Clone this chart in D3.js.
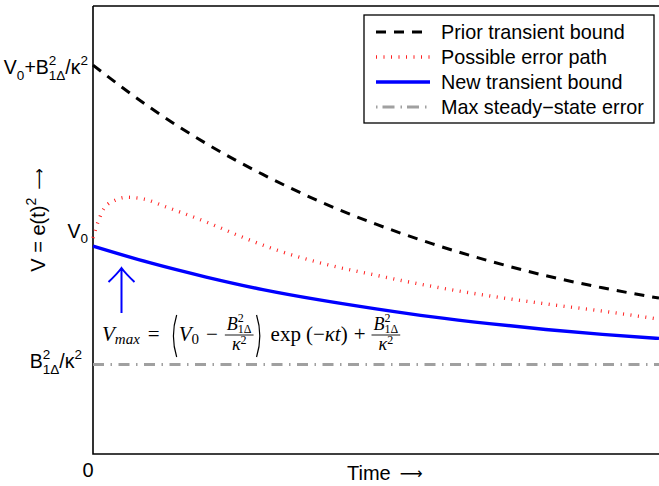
<!DOCTYPE html>
<html>
<head>
<meta charset="utf-8">
<script src="https://cdn.jsdelivr.net/npm/d3@7/dist/d3.min.js"></script>
<style>
  html, body { margin: 0; padding: 0; background: #fff; }
  svg { display: block; }
</style>
</head>
<body>
<svg id="chart" width="659" height="486"></svg>
<script>
// ---- data ----
const tGrid = [0, 1, 2, 3, 4, 5, 6, 7, 8, 9, 10];
const priorBound = [8.68, 7.74, 6.93, 6.24, 5.64, 5.13, 4.69, 4.31, 3.98, 3.71, 3.48];
const newBound = [4.64, 4.27, 3.95, 3.67, 3.44, 3.24, 3.06, 2.91, 2.78, 2.67, 2.58];
const errT = [0, 0.1, 0.2, 0.4, 0.6, 0.9, 1.3, 2.0, 2.6, 3.25, 4, 5, 6, 7, 8, 9, 10];
const errPath = [4.82, 5.22, 5.49, 5.67, 5.73, 5.69, 5.51, 5.18, 4.86, 4.55, 4.27, 3.99, 3.74, 3.53, 3.35, 3.19, 3.01];
const steadyT = [0, 10];
const steadyErr = [2.0, 2.0];
const yTickVals = [2.0, 4.82, 8.68];
const legendLabels = ["Prior transient bound", "Possible error path", "New transient bound", "Max steady\u2212state error"];

// ---- scales ----
const svg = d3.select("#chart");
const x = d3.scaleLinear().domain([0, 10]).range([93, 659]);
const y = d3.scaleLinear().domain([0, 10]).range([454, 6]);

const SANS = "'Liberation Sans', Arial, Helvetica, sans-serif";
const SERIF = "'Liberation Serif', 'DejaVu Serif', serif";
const ARROW = "'DejaVu Sans', sans-serif";

// ---- tiny layout helpers for sub/superscripted text ----
function txt(parent, s, o) {
  const t = parent.append("text").text(s)
    .attr("font-family", o.family || SANS)
    .attr("font-size", o.size)
    .attr("font-style", o.italic ? "italic" : null)
    .attr("fill", o.fill || "#000");
  const w = t.node().getComputedTextLength();
  return { w: w + (o.pad || 0), place(x0, b) { t.attr("x", x0 + (o.lpad || 0)).attr("y", b + (o.dy || 0)); } };
}
function stack(items) {
  return { w: d3.max(items, d => d.w), place(x0, b) { items.forEach(i => i.place(x0, b)); } };
}
function row(items) {
  return { w: d3.sum(items, d => d.w), place(x0, b) { let cx = x0; items.forEach(i => { i.place(cx, b); cx += i.w; }); } };
}
function gap(w) { return { w, place() {} }; }
function frac(parent, num, den, axis) {
  const line = parent.append("line").attr("stroke", "#000").attr("stroke-width", 0.9);
  const w = Math.max(num.w, den.w) + 6;
  return {
    w,
    place(x0, b) {
      const yb = b - axis;
      line.attr("x1", x0 + 1).attr("x2", x0 + w - 1).attr("y1", yb).attr("y2", yb);
      num.place(x0 + (w - num.w) / 2, yb - 5);
      den.place(x0 + (w - den.w) / 2, yb + 15);
    }
  };
}
function paren(parent, left, h) {
  const p = parent.append("path").attr("fill", "none").attr("stroke", "#000").attr("stroke-width", 1.2);
  return {
    w: 9,
    place(x0, b) {
      const top = b - 26, bot = top + h;
      const mid = (top + bot) / 2;
      if (left) p.attr("d", `M${x0 + 7},${top} Q${x0 + 0.5},${mid} ${x0 + 7},${bot}`);
      else p.attr("d", `M${x0 + 2},${top} Q${x0 + 8.5},${mid} ${x0 + 2},${bot}`);
    }
  };
}

// ---- frame (right side runs past the window) ----
svg.append("path")
  .attr("d", `M${x(0)},${y(10)}H${x(10) + 20}M${x(0)},${y(10)}V${y(0)}H${x(10) + 20}`)
  .attr("fill", "none").attr("stroke", "#000").attr("stroke-width", 1.6);

// ---- curves ----
const line = d3.line().x(d => x(d[0])).y(d => y(d[1])).curve(d3.curveMonotoneX);
const styles = [
  { stroke: "#000", width: 3, dash: "10 8" },
  { stroke: "#ff2020", width: 3.4, dash: "1 6.5" },
  { stroke: "#0000ff", width: 3.4, dash: null },
  { stroke: "#a0a0a0", width: 3, dash: "11 6.5 1.5 6.5" }
];
const seriesPts = [
  d3.zip(tGrid, priorBound),
  d3.zip(errT, errPath),
  d3.zip(tGrid, newBound),
  d3.zip(steadyT, steadyErr)
];
// draw order: steady-state, new bound, error path, prior bound
[3, 2, 1, 0].forEach(i => {
  svg.append("path").datum(seriesPts[i]).attr("d", line)
    .attr("fill", "none").attr("stroke", styles[i].stroke)
    .attr("stroke-width", styles[i].width)
    .attr("stroke-dasharray", styles[i].dash);
});

// ---- y tick labels ----
const ty = svg.append("g");
const S = 19.5, s = 13.5;
const sup2 = () => txt(ty, "2", { size: s, dy: -9 });
const sub1D = () => txt(ty, "1\u0394", { size: s, dy: 6 });
{
  const r = row([txt(ty, "V", { size: S }), txt(ty, "0", { size: s, dy: 6 }), txt(ty, "+", { size: S }),
    txt(ty, "B", { size: S }), stack([sup2(), sub1D()]), txt(ty, "/\u03ba", { size: S }), sup2()]);
  r.place(88 - r.w, y(yTickVals[2]) + 9);
}
{
  const r = row([txt(ty, "V", { size: S }), txt(ty, "0", { size: s, dy: 5 })]);
  r.place(88 - r.w, y(yTickVals[1]));
}
{
  const r = row([txt(ty, "B", { size: S }), stack([sup2(), sub1D()]), txt(ty, "/\u03ba", { size: S }), sup2()]);
  r.place(82 - r.w, y(yTickVals[0]) + 4);
}

// ---- axis labels ----
svg.append("text").attr("x", x(0) - 5).attr("y", 477).attr("text-anchor", "middle")
  .attr("font-family", SANS).attr("font-size", 20).text("0");
{
  const xl = svg.append("g");
  row([txt(xl, "Time", { size: 20 }), gap(9), txt(xl, "\u27f6", { family: ARROW, size: 16, dy: -1 })]).place(347, 480);
}

const yl = svg.append("g").attr("transform", "translate(45,220) rotate(-90)");
{
  const r = row([txt(yl, "V = e(t)", { size: 20 }), txt(yl, "2", { size: 14, dy: -9 }), gap(8),
    txt(yl, "\u27f6", { family: ARROW, size: 15, dy: -1 })]);
  r.place(-r.w / 2, 0);
}

// ---- annotation: arrow + formula ----
svg.append("path")
  .attr("d", "M121.5,313V269M108.5,282Q117,274 121.5,268Q126,274 134.5,282")
  .attr("fill", "none").attr("stroke", "#0000ff").attr("stroke-width", 2);

const fm = svg.append("g");
const F = 21, f = 15;
const fracB = () => frac(fm,
  row([txt(fm, "B", { family: SERIF, size: 18, italic: true }),
    stack([txt(fm, "2", { family: SERIF, size: 12, dy: -8 }), txt(fm, "1\u0394", { family: SERIF, size: 12, dy: 3 })])]),
  row([txt(fm, "\u03ba", { family: SERIF, size: 18, italic: true }), txt(fm, "2", { family: SERIF, size: 12, dy: -6 })]),
  6);
const formula = row([
  txt(fm, "V", { family: SERIF, size: F, italic: true }),
  txt(fm, "max", { family: SERIF, size: f, italic: true, dy: 3 }),
  gap(8), txt(fm, "=", { family: SERIF, size: F }), gap(10),
  paren(fm, true, 42),
  txt(fm, "V", { family: SERIF, size: F, italic: true }),
  txt(fm, "0", { family: SERIF, size: f, dy: 3 }),
  gap(7), txt(fm, "\u2212", { family: SERIF, size: F }), gap(6),
  fracB(),
  paren(fm, false, 42),
  gap(7),
  txt(fm, "exp", { family: SERIF, size: F }), gap(5),
  txt(fm, "(\u2212", { family: SERIF, size: F }),
  txt(fm, "\u03bat", { family: SERIF, size: F, italic: true }),
  txt(fm, ")", { family: SERIF, size: F }), gap(6),
  txt(fm, "+", { family: SERIF, size: F }), gap(5),
  fracB()
]);
formula.place(102, 341);

// ---- legend ----
const lg = svg.append("g");
lg.append("rect").attr("x", 364).attr("y", 15).attr("width", 290).attr("height", 108)
  .attr("fill", "#fff").attr("stroke", "#000").attr("stroke-width", 1.3);
legendLabels.forEach((lab, i) => {
  const yy = 32 + i * 25;
  lg.append("line").attr("x1", 376).attr("x2", 430).attr("y1", yy).attr("y2", yy)
    .attr("stroke", styles[i].stroke).attr("stroke-width", styles[i].width)
    .attr("stroke-dasharray", i === 3 ? "1.5 5 12 6" : styles[i].dash);
  lg.append("text").attr("x", 441).attr("y", yy + 7)
    .attr("font-family", SANS).attr("font-size", 19.8).text(lab);
});
</script>
</body>
</html>
